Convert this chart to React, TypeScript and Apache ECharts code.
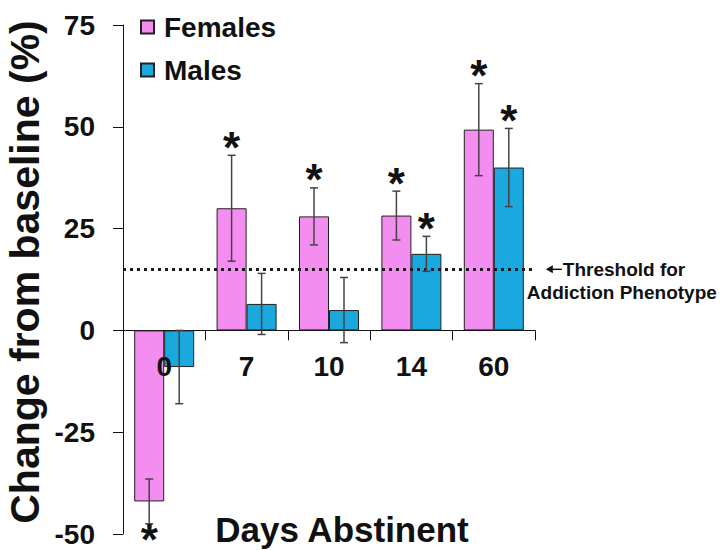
import React, { useEffect, useRef } from "react";
import * as echarts from "echarts";

const days = ["0", "7", "10", "14", "60"];
const females = [-42, 30, 28, 28.2, 49.3];
const males = [-9, 6.5, 5, 18.8, 40];
const femalesErr = [5.5, 13, 7, 6, 11.3];
const malesErr = [9, 7.5, 8, 4.3, 9.6];
// "up" = star above error bar, "down" = star below, "" = none
const femalesStar = ["down", "up", "up", "up", "up"];
const malesStar = ["", "", "", "up", "up"];
const threshold = 15;
const yTicks = { min: -50, max: 75, interval: 25 };
const yTitle = "Change from baseline (%)";
const xTitle = "Days Abstinent";

const FONT = "Arial, 'Liberation Sans', sans-serif";
const PINK = "#F48DF0";
const BLUE = "#1AA8DF";

export default function App() {
  const ref = useRef<HTMLDivElement>(null);
  useEffect(() => {
    if (!ref.current) return;
    const chart = echarts.init(ref.current, null, { renderer: "svg" });

    const errData: any[] = [];
    days.forEach((_, i) => {
      errData.push([i, 0, females[i] - femalesErr[i], females[i] + femalesErr[i], femalesStar[i]]);
      errData.push([i, 1, males[i] - malesErr[i], males[i] + malesErr[i], malesStar[i]]);
    });

    const BAR_W = 30;

    chart.setOption({
      animation: false,
      grid: { left: 123, right: 185, top: 25, bottom: 16, containLabel: false, outerBoundsMode: "none" },
      legend: {
        orient: "vertical",
        left: 140,
        top: 13,
        padding: 0,
        itemWidth: 13,
        itemHeight: 13,
        itemGap: 15,
        icon: "rect",
        textStyle: { fontFamily: FONT, fontWeight: "bold", fontSize: 28, color: "#111", padding: [0, 0, 0, 5] },
        data: ["Females", "Males"],
      },
      xAxis: {
        type: "category",
        data: days,
        axisLine: { onZero: true, lineStyle: { color: "#111", width: 1 } },
        axisTick: { show: true, length: 10, lineStyle: { color: "#111" } },
        axisLabel: { show: false },
      },
      yAxis: {
        type: "value",
        min: yTicks.min,
        max: yTicks.max,
        interval: yTicks.interval,
        axisLine: { show: true, lineStyle: { color: "#111", width: 1 } },
        axisTick: { show: true, length: 10, lineStyle: { color: "#111" } },
        splitLine: { show: false },
        axisLabel: { fontFamily: FONT, fontWeight: "bold", fontSize: 28, color: "#111", margin: 28 },
      },
      series: [
        {
          name: "Females",
          type: "bar",
          data: females,
          barWidth: BAR_W,
          barGap: "0%",
          itemStyle: { color: PINK, borderColor: "#222", borderWidth: 1 },
          markLine: {
            silent: true,
            symbol: "none",
            label: { show: false },
            lineStyle: { type: [3, 4], width: 3, color: "#1a1a1a" },
            data: [{ yAxis: threshold }],
          },
        },
        {
          name: "Males",
          type: "bar",
          data: males,
          barWidth: BAR_W,
          barGap: "0%",
          itemStyle: { color: BLUE, borderColor: "#222", borderWidth: 1 },
        },
        {
          type: "custom",
          data: errData,
          z: 10,
          renderItem: (params: any, api: any) => {
            const idx = api.value(0);
            const side = api.value(1);
            const lo = api.value(2);
            const hi = api.value(3);
            const star = errData[params.dataIndex][4];
            const c = api.coord([idx, 0]);
            const x = c[0] + (side === 0 ? -BAR_W / 2 : BAR_W / 2);
            const yLo = api.coord([idx, lo])[1];
            const yHi = api.coord([idx, hi])[1];
            const cw = 4;
            const st = { stroke: "#444", lineWidth: 1.5 };
            const children: any[] = [
              { type: "line", shape: { x1: x, y1: yLo, x2: x, y2: yHi }, style: st },
              { type: "line", shape: { x1: x - cw, y1: yLo, x2: x + cw, y2: yLo }, style: st },
              { type: "line", shape: { x1: x - cw, y1: yHi, x2: x + cw, y2: yHi }, style: st },
            ];
            if (star === "up" || star === "down") {
              children.push({
                type: "text",
                style: {
                  text: "*",
                  x: x,
                  y: star === "up" ? yHi - 8 : yLo + 16,
                  align: "center",
                  verticalAlign: "middle",
                  lineHeight: 12,
                  font: `bold 44px ${FONT}`,
                  fill: "#111",
                },
              });
            }
            return { type: "group", children };
          },
        },
        {
          type: "custom",
          data: days.map((_, i) => [i, 0]),
          z: 12,
          renderItem: (params: any, api: any) => {
            const idx = api.value(0);
            const c = api.coord([idx, 0]);
            return {
              type: "text",
              style: {
                text: days[idx],
                x: c[0],
                y: c[1] + 22,
                align: "center",
                verticalAlign: "top",
                font: `bold 28px ${FONT}`,
                fill: "#111",
              },
            };
          },
        },
      ],
    });

    const yPx = chart.convertToPixel({ yAxisIndex: 0 }, threshold) as number;
    const xEnd = chart.convertToPixel({ xAxisIndex: 0 }, days.length - 1) as number;
    const ax = xEnd + 53;
    chart.setOption({
      graphic: [
        { type: "line", shape: { x1: ax + 3, y1: yPx, x2: ax + 15, y2: yPx }, style: { stroke: "#111", lineWidth: 1.5 } },
        { type: "polygon", shape: { points: [[ax - 1, yPx], [ax + 6, yPx - 4], [ax + 6, yPx + 4]] }, style: { fill: "#111" } },
        {
          type: "text",
          x: ax + 16,
          y: yPx,
          style: { text: "Threshold for", font: `bold 19px ${FONT}`, fill: "#111", verticalAlign: "middle", align: "left" },
        },
        {
          type: "text",
          x: ax - 20,
          y: yPx + 23,
          style: { text: "Addiction Phenotype", font: `bold 19px ${FONT}`, fill: "#111", verticalAlign: "middle", align: "left" },
        },
        {
          type: "text",
          x: 25,
          y: 272,
          rotation: Math.PI / 2,
          style: { text: yTitle, font: `bold 41px ${FONT}`, fill: "#111", verticalAlign: "middle", align: "center" },
        },
        {
          type: "text",
          x: 342,
          y: 529,
          style: { text: xTitle, font: `bold 35px ${FONT}`, fill: "#111", verticalAlign: "middle", align: "center" },
        },
      ],
    });

    return () => chart.dispose();
  }, []);
  return <div ref={ref} style={{ width: 720, height: 550, position: "absolute", left: 0, top: 0 }} />;
}
